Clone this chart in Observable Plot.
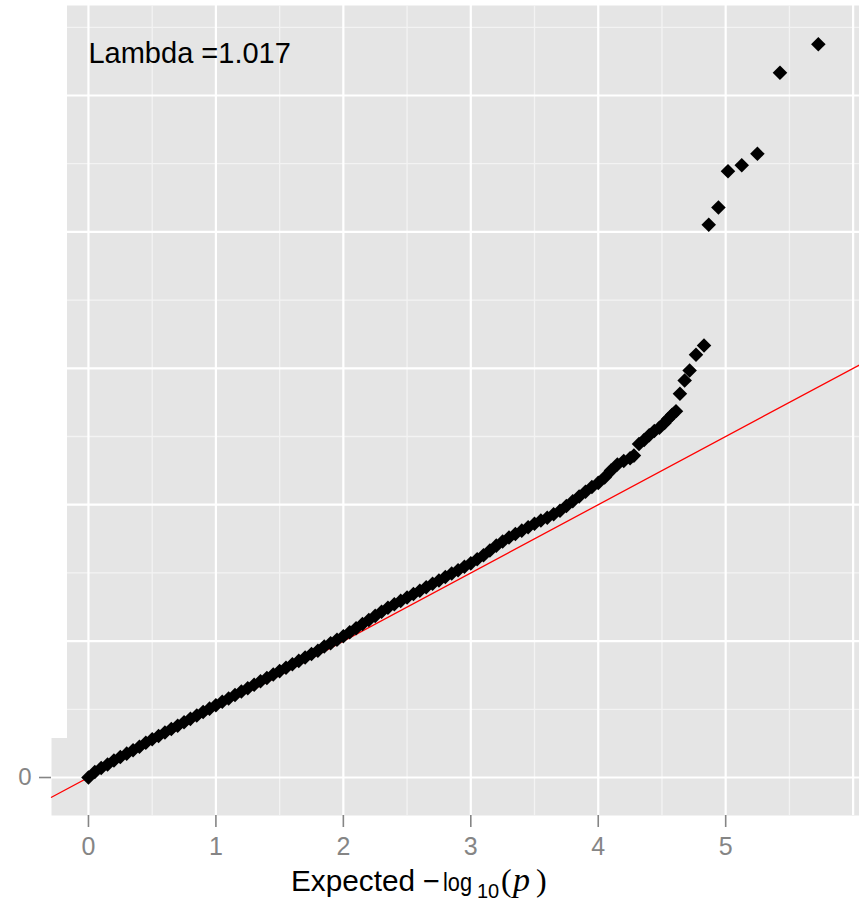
<!DOCTYPE html>
<html>
<head>
<meta charset="utf-8">
<script src="https://cdn.jsdelivr.net/npm/d3@7"></script>
<script src="https://cdn.jsdelivr.net/npm/@observablehq/plot@0.6"></script>
<style>
  body { margin: 0; background: #fff; }
  #chart svg { display: block; }
</style>
</head>
<body>
<div id="chart"></div>
<script>
const expected = [
  0.00, 0.05, 0.10, 0.15, 0.20, 0.25, 0.30, 0.35, 0.40, 0.45,
  0.50, 0.55, 0.60, 0.65, 0.70, 0.75, 0.80, 0.85, 0.90, 0.95,
  1.00, 1.05, 1.10, 1.15, 1.20, 1.25, 1.30, 1.35, 1.40, 1.45,
  1.50, 1.55, 1.60, 1.65, 1.70, 1.75, 1.80, 1.85, 1.90, 1.95,
  2.00, 2.05, 2.10, 2.15, 2.20, 2.25, 2.30, 2.35, 2.40, 2.45,
  2.50, 2.55, 2.60, 2.65, 2.70, 2.75, 2.80, 2.85, 2.90, 2.95,
  3.00, 3.05, 3.10, 3.15, 3.20, 3.25, 3.30, 3.35, 3.40, 3.45,
  3.50, 3.55, 3.60, 3.65, 3.70, 3.75, 3.80, 3.85, 3.90, 3.95,
  4.00, 4.05, 4.10, 4.15, 4.20, 4.25, 4.28,
  4.32, 4.36, 4.40, 4.44, 4.48, 4.52, 4.55, 4.58, 4.61,
  4.641, 4.678, 4.717, 4.767, 4.830,
  4.867, 4.943, 5.018, 5.126, 5.249, 5.426, 5.727
];
const observed = [
  0.00, 0.08, 0.14, 0.19, 0.25, 0.30, 0.35, 0.40, 0.45, 0.51,
  0.56, 0.61, 0.66, 0.71, 0.76, 0.81, 0.86, 0.91, 0.96, 1.01,
  1.06, 1.11, 1.16, 1.21, 1.26, 1.31, 1.36, 1.41, 1.46, 1.51,
  1.56, 1.61, 1.66, 1.71, 1.76, 1.81, 1.86, 1.92, 1.97, 2.02,
  2.07, 2.13, 2.19, 2.25, 2.31, 2.37, 2.43, 2.49, 2.54, 2.59,
  2.64, 2.69, 2.74, 2.79, 2.84, 2.89, 2.94, 2.99, 3.04, 3.09,
  3.14, 3.20, 3.26, 3.33, 3.40, 3.46, 3.52, 3.57, 3.62, 3.67,
  3.72, 3.77, 3.81, 3.86, 3.91, 3.98, 4.05, 4.12, 4.19, 4.26,
  4.32, 4.40, 4.50, 4.59, 4.64, 4.68, 4.72,
  4.89, 4.95, 5.02, 5.08, 5.13, 5.20, 5.26, 5.32, 5.37,
  5.626, 5.821, 5.968, 6.198, 6.334,
  8.104, 8.358, 8.890, 8.978, 9.145, 10.333, 10.752
];
const lambdaLabel = "Lambda =1.017";
const xTicks = [0, 1, 2, 3, 4, 5];
const xMinorGrid = [0.5, 1.5, 2.5, 3.5, 4.5, 5.5];
const xMajorGrid = [0, 1, 2, 3, 4, 5, 6];
const yTicks = [0];
const yMajorGrid = [0, 2, 4, 6, 8, 10];
const yMinorGrid = [1, 3, 5, 7, 9, 11];
const xDomain = [-0.29, 6.05];
const yDomain = [-0.557, 11.32];

const points = expected.map((x, i) => ({x, y: observed[i]}));

const tickGrey = "#858585";
const intFormat = d3.format("d");

const plot = Plot.plot({
  width: 859,
  height: 902,
  marginLeft: 51,
  marginRight: 0,
  marginTop: 5,
  marginBottom: 87,
  style: {fontFamily: "'Liberation Sans', Arial, sans-serif", background: "white", overflow: "visible"},
  x: {domain: xDomain, label: null},
  y: {domain: yDomain, label: null},
  marks: [
    Plot.frame({fill: "#E5E5E5", stroke: null}),
    Plot.gridX(xMinorGrid, {stroke: "#F3F3F3", strokeOpacity: 1, strokeWidth: 1.3}),
    Plot.gridY(yMinorGrid, {stroke: "#F3F3F3", strokeOpacity: 1, strokeWidth: 1.3}),
    Plot.gridX(xMajorGrid, {stroke: "#FFFFFF", strokeOpacity: 1, strokeWidth: 2.2}),
    Plot.gridY(yMajorGrid, {stroke: "#FFFFFF", strokeOpacity: 1, strokeWidth: 2.2}),
    Plot.axisX(xTicks, {tickSize: 12, tickPadding: 10, fontSize: 25, stroke: tickGrey, fill: tickGrey, strokeWidth: 1.6, tickFormat: intFormat, label: null}),
    Plot.axisY(yTicks, {tickSize: 12, tickPadding: 8, fontSize: 24, stroke: tickGrey, fill: tickGrey, strokeWidth: 1.6, tickFormat: intFormat, label: null}),
    Plot.line(xDomain, {x: d => d, y: d => d, stroke: "#FF0000", strokeWidth: 1.3}),
    Plot.dot(points, {x: "x", y: "y", symbol: "square", rotate: 45, r: 5.8, fill: "#000000"}),
    Plot.text([lambdaLabel], {x: () => 0, y: () => 10.62, text: d => d, textAnchor: "start", lineAnchor: "middle", fontSize: 29, fill: "#000000"})
  ]
});

const svg = d3.select(plot);

// white patch hiding the left part of the panel and y-axis labels (as in the source image)
svg.append("rect").attr("x", 0).attr("y", 0).attr("width", 67).attr("height", 738).attr("fill", "#FFFFFF");

// x-axis title: Expected  −log10(p)
const serif = "'Liberation Serif', 'Times New Roman', serif";
const title = svg.append("text")
  .attr("y", 891)
  .attr("text-anchor", "start")
  .attr("fill", "#000")
  .style("font-family", "'Liberation Sans', Arial, sans-serif")
  .style("font-size", "29px");
title.append("tspan").attr("x", 291).attr("textLength", 124).attr("lengthAdjust", "spacingAndGlyphs").text("Expected");
title.append("tspan").attr("x", 423).text("\u2212");
title.append("tspan").attr("x", 443).style("font-size", "25px").attr("textLength", 29).attr("lengthAdjust", "spacingAndGlyphs").text("log");
title.append("tspan").attr("x", 477).attr("dy", 7).style("font-size", "20px").text("10");
title.append("tspan").attr("x", 501).attr("dy", -7).style("font-family", serif).style("font-size", "32px").text("(");
title.append("tspan").attr("x", 513).style("font-family", serif).style("font-style", "italic").style("font-size", "34px").text("p");
title.append("tspan").attr("x", 536).style("font-family", serif).style("font-size", "32px").text(")");

document.getElementById("chart").appendChild(plot);
</script>
</body>
</html>
